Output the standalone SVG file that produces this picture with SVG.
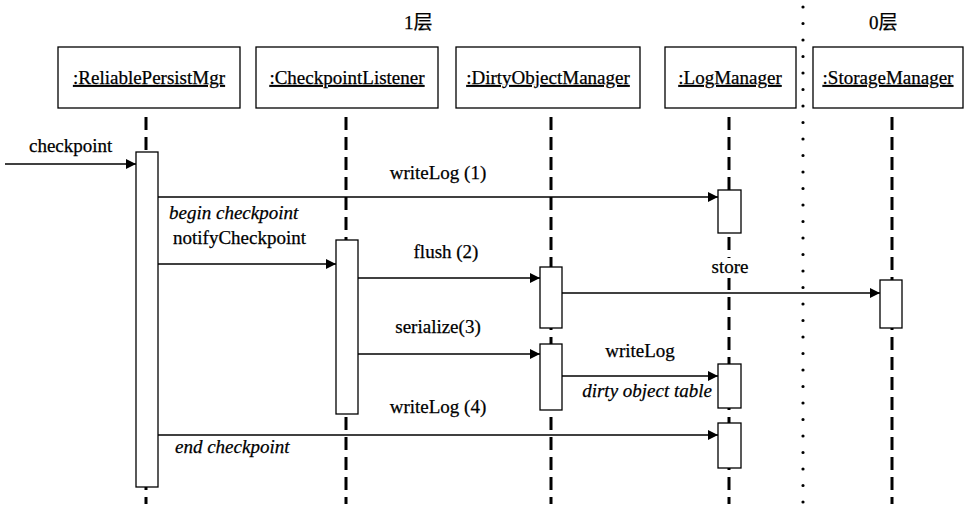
<svg xmlns="http://www.w3.org/2000/svg" width="964" height="514" viewBox="0 0 964 514">
  <style>
    text { font-family: "Liberation Serif", "DejaVu Serif", "Noto Sans CJK SC", serif; font-size: 19px; fill: #000; stroke: #000; stroke-width: 0.25; }
    .name { text-anchor: middle; text-decoration: underline; }
    .mid { text-anchor: middle; }
    .it { font-style: italic; }
    .box { fill: #fff; stroke: #000; stroke-width: 1.3; }
    .life { stroke: #000; stroke-width: 3; stroke-dasharray: 13 7; fill: none; }
    .act { fill: #fff; stroke: #000; stroke-width: 1.3; }
    .msg { stroke: #000; stroke-width: 1.3; fill: none; marker-end: url(#head); }
    .sep { stroke: #000; stroke-width: 3.2; stroke-linecap: round; stroke-dasharray: 0 16.5; fill: none; }
  </style>
  <defs>
    <marker id="head" viewBox="0 0 10 10" refX="10" refY="5" markerWidth="10" markerHeight="10" markerUnits="userSpaceOnUse" orient="auto">
      <path d="M0,0 L10,5 L0,10 Z" fill="#000"/>
    </marker>
  </defs>
  <rect width="964" height="514" fill="#fff"/>

  <!-- layer separator and layer labels -->
  <g id="layers">
    <line class="sep" x1="803" y1="7" x2="803" y2="514"/>
    <text x="404" y="29">1层</text>
    <text x="869" y="29">0层</text>
  </g>

  <!-- lifelines -->
  <g id="lifelines">
    <line class="life" x1="146" y1="117" x2="146" y2="504"/>
    <line class="life" x1="346" y1="117" x2="346" y2="504"/>
    <line class="life" x1="551" y1="117" x2="551" y2="504"/>
    <line class="life" x1="729" y1="117" x2="729" y2="504"/>
    <line class="life" x1="892" y1="117" x2="892" y2="504"/>
  </g>

  <!-- connectors -->
  <g id="connectors">
    <line class="msg" x1="5" y1="164" x2="136" y2="164"/>
    <line class="msg" x1="158" y1="197" x2="718" y2="197"/>
    <line class="msg" x1="158" y1="264" x2="336" y2="264"/>
    <line class="msg" x1="358" y1="278" x2="540" y2="278"/>
    <line class="msg" x1="562" y1="293" x2="880" y2="293"/>
    <line class="msg" x1="358" y1="354" x2="540" y2="354"/>
    <line class="msg" x1="562" y1="376" x2="718" y2="376"/>
    <line class="msg" x1="158" y1="435" x2="718" y2="435"/>
  </g>

  <g id="ReliablePersistMgr">
    <rect class="box" x="58" y="47" width="182" height="61"/>
    <text class="name" x="149" y="84">:ReliablePersistMgr</text>
    <rect class="act" x="136" y="152" width="22" height="335"/>
  </g>
  <g id="CheckpointListener">
    <rect class="box" x="256" y="47" width="182" height="61"/>
    <text class="name" x="347" y="84">:CheckpointListener</text>
    <rect class="act" x="336" y="240" width="22" height="174"/>
  </g>
  <g id="DirtyObjectManager">
    <rect class="box" x="456" y="47" width="184" height="61"/>
    <text class="name" x="548" y="84">:DirtyObjectManager</text>
    <rect class="act" x="540" y="267" width="22" height="61"/>
    <rect class="act" x="540" y="344" width="22" height="66"/>
  </g>
  <g id="LogManager">
    <rect class="box" x="665" y="47" width="131" height="61"/>
    <text class="name" x="730" y="84">:LogManager</text>
    <rect class="act" x="718" y="190" width="23" height="43"/>
    <rect class="act" x="718" y="364" width="23" height="44"/>
    <rect class="act" x="718" y="423" width="23" height="45"/>
  </g>
  <g id="StorageManager">
    <rect class="box" x="813" y="47" width="150" height="61"/>
    <text class="name" x="888" y="84">:StorageManager</text>
    <rect class="act" x="880" y="280" width="22" height="48"/>
  </g>

  <!-- message labels -->
  <g id="labels">
    <text x="29" y="152">checkpoint</text>
    <text class="mid" x="438" y="179">writeLog (1)</text>
    <text class="it" x="169" y="219">begin checkpoint</text>
    <text x="173" y="244">notifyCheckpoint</text>
    <text class="mid" x="446" y="258">flush (2)</text>
    <rect x="711" y="258" width="38" height="20" fill="#fff"/>
    <text class="mid" x="730" y="273">store</text>
    <text class="mid" x="438" y="333">serialize(3)</text>
    <text class="mid" x="640" y="357">writeLog</text>
    <text class="it" x="712" y="397" text-anchor="end">dirty object table</text>
    <text class="mid" x="438" y="413">writeLog (4)</text>
    <text class="it" x="175" y="453">end checkpoint</text>
  </g>
</svg>
